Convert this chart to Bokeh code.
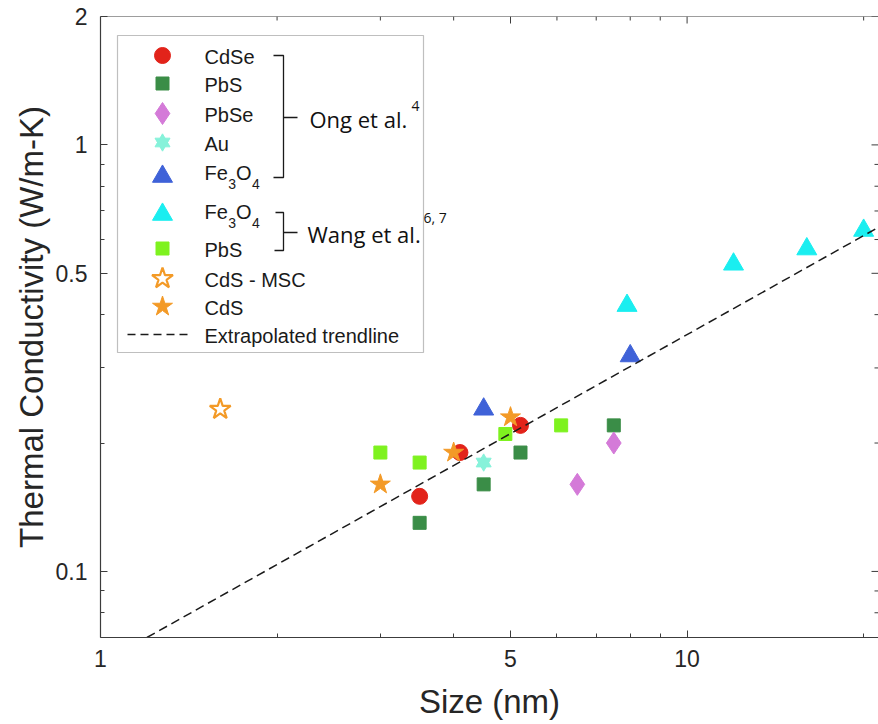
import math

from bokeh.core.properties import value
from bokeh.embed import file_html
from bokeh.models import BoxAnnotation, CustomJSTickFormatter, FixedTicker, Range1d
from bokeh.plotting import figure
from bokeh.resources import INLINE

# ---------------------------------------------------------------- data
# particle size (nm) and thermal conductivity (W/m-K)
cdse_size = [3.5, 4.1, 5.2]
cdse_k = [0.15, 0.19, 0.22]

pbs_ong_size = [3.5, 4.5, 5.2, 7.5]
pbs_ong_k = [0.13, 0.16, 0.19, 0.22]

pbse_size = [6.5, 7.5]
pbse_k = [0.16, 0.20]

au_size = [4.5]
au_k = [0.18]

fe3o4_ong_size = [4.5, 8.0]
fe3o4_ong_k = [0.24, 0.32]

fe3o4_wang_size = [7.9, 12.0, 16.0, 20.0]
fe3o4_wang_k = [0.42, 0.525, 0.57, 0.63]

pbs_wang_size = [3.0, 3.5, 4.9, 6.1]
pbs_wang_k = [0.19, 0.18, 0.21, 0.22]

cds_msc_size = [1.6]
cds_msc_k = [0.24]

cds_size = [3.0, 4.0, 5.0]
cds_k = [0.16, 0.19, 0.23]

trend_size = [1.2, 21.2]
trend_k = [0.070, 0.641]

x_major = [1, 5, 10]
x_minor = [2, 3, 4, 6, 7, 8, 9, 20]
y_major = [0.1, 0.5, 1, 2]
y_minor = [0.08, 0.09, 0.2, 0.3, 0.4, 0.6, 0.7, 0.8, 0.9]

# ---------------------------------------------------------------- layout
W, H = 878, 724
X_MIN, X_MAX = 1, 21.2
Y_MIN, Y_MAX = 0.07, 2
FRAME_LEFT, FRAME_TOP = 100, 16
FRAME_W, FRAME_H = W - FRAME_LEFT, 637 - FRAME_TOP
MAJOR_TICK, MINOR_TICK = 7, 4

AXIS_COLOR = "#3c3c3c"
TEXT_COLOR = "#262626"
SANS_NAME = "Liberation Sans"
SANS = value(SANS_NAME)
CALLOUT = value("Open Sans")

RED = "#e2231a"
DARK_GREEN = "#3a8d47"
ORCHID = "#d47ad8"
AQUA = "#86f2da"
ROYAL = "#3f62d8"
CYAN = "#1aeef0"
LIME = "#7ef21f"
ORANGE = "#f39a27"


def to_data(px, py):
    """Canvas pixel -> data coordinates on the log/log frame."""
    fx = (px - FRAME_LEFT) / FRAME_W
    fy = (FRAME_TOP + FRAME_H - py) / FRAME_H
    lx0, lx1 = math.log10(X_MIN), math.log10(X_MAX)
    ly0, ly1 = math.log10(Y_MIN), math.log10(Y_MAX)
    return 10 ** (lx0 + fx * (lx1 - lx0)), 10 ** (ly0 + fy * (ly1 - ly0))


p = figure(
    width=W, height=H,
    x_axis_type="log", y_axis_type="log",
    x_range=Range1d(X_MIN, X_MAX), y_range=Range1d(Y_MIN, Y_MAX),
    output_backend="svg", toolbar_location=None,
    min_border_left=FRAME_LEFT, min_border_right=0,
    min_border_top=FRAME_TOP, min_border_bottom=H - FRAME_TOP - FRAME_H,
    background_fill_color="white", border_fill_color="white",
)
p.outline_line_color = None
p.grid.visible = False

plain = CustomJSTickFormatter(code="return tick.toString()")


def style_axis(ax):
    ax.axis_line_color = AXIS_COLOR
    ax.axis_line_width = 1.2
    ax.major_tick_line_color = AXIS_COLOR
    ax.minor_tick_line_color = AXIS_COLOR
    ax.major_tick_in = MAJOR_TICK
    ax.major_tick_out = 0
    ax.minor_tick_in = MINOR_TICK
    ax.minor_tick_out = 0
    ax.major_label_text_font = SANS_NAME
    ax.major_label_text_font_size = "23px"
    ax.major_label_text_color = TEXT_COLOR
    ax.axis_label_text_font = SANS_NAME
    ax.axis_label_text_font_size = "33px"
    ax.axis_label_text_font_style = "normal"
    ax.axis_label_text_color = TEXT_COLOR


xa = p.xaxis[0]
xa.ticker = FixedTicker(ticks=x_major, minor_ticks=x_minor)
xa.formatter = plain
xa.axis_label = "Size (nm)"
xa.major_label_standoff = 12
xa.axis_label_standoff = 13
style_axis(xa)

ya = p.yaxis[0]
ya.ticker = FixedTicker(ticks=y_major, minor_ticks=y_minor)
ya.formatter = plain
ya.axis_label = "Thermal Conductivity (W/m-K)"
ya.major_label_standoff = 13
ya.axis_label_standoff = 3
style_axis(ya)

# box edges: top spine with inward ticks, inward ticks along the right edge
p.line([X_MIN, X_MAX], [Y_MAX, Y_MAX], line_color=AXIS_COLOR, line_width=1.2)
for ticks, length in ((x_major, MAJOR_TICK), (x_minor, MINOR_TICK)):
    y_in = to_data(FRAME_LEFT, FRAME_TOP + length)[1]
    p.segment(x0=ticks, y0=[Y_MAX] * len(ticks), x1=ticks, y1=[y_in] * len(ticks),
              line_color=AXIS_COLOR, line_width=1)
for ticks, length in ((y_major, MAJOR_TICK), (y_minor, MINOR_TICK)):
    x_in = to_data(W - length, FRAME_TOP)[0]
    p.segment(x0=[X_MAX] * len(ticks), y0=ticks, x1=[x_in] * len(ticks), y1=ticks,
              line_color=AXIS_COLOR, line_width=1)

# ---------------------------------------------------------------- series
STYLES = {
    "cdse": dict(marker="circle", size=16, fill_color=RED, line_color=RED),
    "pbs_ong": dict(marker="square", size=13, fill_color=DARK_GREEN, line_color=DARK_GREEN),
    "pbse": dict(marker="diamond", size=22, fill_color=ORCHID, line_color=ORCHID),
    "fe_ong": dict(marker="triangle", size=20, fill_color=ROYAL, line_color=ROYAL),
    "fe_wang": dict(marker="triangle", size=20, fill_color=CYAN, line_color=CYAN),
    "pbs_wang": dict(marker="square", size=13, fill_color=LIME, line_color=LIME),
    "cds_msc": dict(marker="star", size=22, fill_color="white", line_color=ORANGE, line_width=2.2),
    "cds": dict(marker="star", size=21, fill_color=ORANGE, line_color=ORANGE),
}
AU_STYLE = dict(size=15, fill_color=AQUA, line_color=AQUA)


def draw_au(xs, ys):
    p.scatter(xs, ys, marker="triangle", **AU_STYLE)
    p.scatter(xs, ys, marker="inverted_triangle", **AU_STYLE)


p.scatter(cdse_size, cdse_k, **STYLES["cdse"])
p.scatter(pbs_ong_size, pbs_ong_k, **STYLES["pbs_ong"])
p.scatter(pbse_size, pbse_k, **STYLES["pbse"])
draw_au(au_size, au_k)
p.scatter(fe3o4_ong_size, fe3o4_ong_k, **STYLES["fe_ong"])
p.scatter(fe3o4_wang_size, fe3o4_wang_k, **STYLES["fe_wang"])
p.scatter(pbs_wang_size, pbs_wang_k, **STYLES["pbs_wang"])
p.scatter(cds_msc_size, cds_msc_k, **STYLES["cds_msc"])
p.scatter(cds_size, cds_k, **STYLES["cds"])
p.line(trend_size, trend_k, line_color="#1a1a1a", line_width=1.5, line_dash="9 5")

# ---------------------------------------------------------------- legend
bx0, by0 = to_data(117, 352)
bx1, by1 = to_data(423, 35)
p.add_layout(BoxAnnotation(left=bx0, right=bx1, bottom=by0, top=by1,
                           fill_color="white", fill_alpha=1.0,
                           line_color="#2b2b2b", line_width=1.2, level="underlay"))

SWATCH_X = 162
TEXT_X = 204
legend_rows = [
    ("cdse", "CdSe", 55),
    ("pbs_ong", "PbS", 83),
    ("pbse", "PbSe", 113),
    ("au", "Au", 142),
    ("fe_ong", None, 176),
    ("fe_wang", None, 214),
    ("pbs_wang", "PbS", 248),
    ("cds_msc", "CdS - MSC", 278),
    ("cds", "CdS", 306),
]

label_x, label_y, label_t = [], [], []
for key, label, row_y in legend_rows:
    sx, sy = to_data(SWATCH_X, row_y)
    if key == "au":
        draw_au([sx], [sy])
    else:
        p.scatter([sx], [sy], **STYLES[key])
    if label is not None:
        tx, ty = to_data(TEXT_X, row_y + 1)
        label_x.append(tx)
        label_y.append(ty)
        label_t.append(label)

p.text(label_x, label_y, text=label_t, text_font=SANS, text_font_size="20px",
       text_color="#1a1a1a", text_baseline="middle", text_align="left")

# Fe3O4 labels with subscripts
big_x, big_y, big_t, sub_x, sub_y, sub_t = [], [], [], [], [], []
for row_y in (172, 211):
    for dx, piece in ((0, "Fe"), (31.5, "O")):
        tx, ty = to_data(TEXT_X + dx, row_y)
        big_x.append(tx); big_y.append(ty); big_t.append(piece)
    for dx, piece in ((23.8, "3"), (47.5, "4")):
        tx, ty = to_data(TEXT_X + dx, row_y + 11)
        sub_x.append(tx); sub_y.append(ty); sub_t.append(piece)
p.text(big_x, big_y, text=big_t, text_font=SANS, text_font_size="20px",
       text_color="#1a1a1a", text_baseline="middle", text_align="left")
p.text(sub_x, sub_y, text=sub_t, text_font=SANS, text_font_size="14px",
       text_color="#1a1a1a", text_baseline="middle", text_align="left")

# trendline sample
lx0, ly = to_data(127, 334)
lx1, _ = to_data(190, 334)
p.line([lx0, lx1], [ly, ly], line_color="#1a1a1a", line_width=1.5, line_dash="8 5")
tx, ty = to_data(TEXT_X, 335)
p.text([tx], [ty], text=["Extrapolated trendline"], text_font=SANS, text_font_size="20px",
       text_color="#1a1a1a", text_baseline="middle", text_align="left")

# citation brackets
bracket_paths = [
    [(273, 55), (283, 55), (283, 177), (273, 177)],
    [(283, 117), (297, 117)],
    [(275, 212), (283, 212), (283, 250), (274, 250)],
    [(283, 232), (297, 232)],
]
bxs, bys = [], []
for path in bracket_paths:
    pts = [to_data(px, py) for px, py in path]
    bxs.append([pt[0] for pt in pts])
    bys.append([pt[1] for pt in pts])
p.multi_line(bxs, bys, line_color="#1a1a1a", line_width=1.3)

cx, cy = to_data(309, 118)
p.text([cx], [cy], text=["Ong et al."], text_font=CALLOUT, text_font_size="22px",
       text_color="#111111", text_baseline="middle", text_align="left")
cx, cy = to_data(411, 105)
p.text([cx], [cy], text=["4"], text_font=CALLOUT, text_font_size="14px",
       text_color="#111111", text_baseline="middle", text_align="left")
cx, cy = to_data(307, 233)
p.text([cx], [cy], text=["Wang et al."], text_font=CALLOUT, text_font_size="22px",
       text_color="#111111", text_baseline="middle", text_align="left")
cx, cy = to_data(423, 217)
p.text([cx], [cy], text=["6, 7"], text_font=CALLOUT, text_font_size="14px",
       text_color="#111111", text_baseline="middle", text_align="left")

open("out.html", "w").write(file_html(p, INLINE))
